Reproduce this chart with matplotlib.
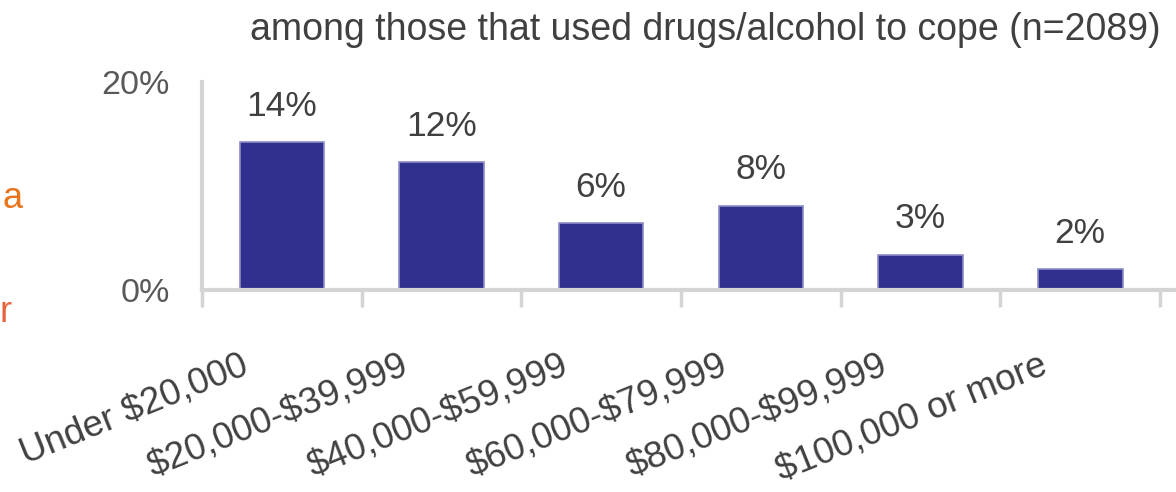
import numpy as np
import matplotlib
matplotlib.use('Agg')
import matplotlib.pyplot as plt
import matplotlib.transforms as mtransforms

# Share of respondents by household income
income_groups = ['Under $20,000', '$20,000-$39,999', '$40,000-$59,999',
                 '$60,000-$79,999', '$80,000-$99,999', '$100,000 or more']
share_pct = [14.2, 12.3, 6.4, 8.1, 3.4, 2.0]
title_text = 'among those that used drugs/alcohol to cope (n=2089)'
y_ticks = [0, 20]

bar_color = '#32308E'
edge_color = '#8E8CC6'
text_color = '#404040'
axis_color = '#D4D4D4'

plt.rcParams['font.family'] = ['Liberation Sans', 'DejaVu Sans']
plt.rcParams['text.parse_math'] = False

fig = plt.figure(figsize=(11.76, 4.92), dpi=100)
ax = fig.add_axes([202 / 1176, 1 - 290 / 492, 1 - 202 / 1176, 208 / 492])

x = np.arange(len(income_groups))
bars = ax.bar(x, share_pct, width=0.53, color=bar_color, edgecolor=edge_color, linewidth=1.2, zorder=2)
for xi, v in zip(x, share_pct):
    ax.annotate('%.0f%%' % v, (xi, v), xytext=(0, 14), textcoords='offset points',
                ha='center', va='bottom', fontsize=25.5, color=text_color)

ax.set_xlim(-0.5, 5.6)
ax.set_ylim(0, 20)
ax.set_yticks(y_ticks)
ax.set_yticklabels(['%d%%' % t for t in y_ticks], fontsize=24.5, color='#595959')
ax.tick_params(axis='y', length=0, pad=23)

# boundary ticks between categories, labels sit on the centres
ax.set_xticks(np.arange(-0.5, 6.0, 1.0))
ax.set_xticklabels([])
ax.tick_params(axis='x', which='major', length=12, width=2.5, color=axis_color)
ax.set_xticks(x, minor=True)
ax.set_xticklabels(income_groups, minor=True, rotation=22, ha='right', va='center',
                   rotation_mode='anchor', fontsize=26.5, color=text_color)
ax.tick_params(axis='x', which='minor', length=0, pad=0)
offset = mtransforms.ScaledTranslation(-0.35, -0.74, fig.dpi_scale_trans)
for lab in ax.get_xticklabels(minor=True):
    lab.set_transform(lab.get_transform() + offset)

for side in ['top', 'right']:
    ax.spines[side].set_visible(False)
for side in ['left', 'bottom']:
    ax.spines[side].set_color(axis_color)
    ax.spines[side].set_linewidth(3)

fig.text(705 / 1176, 1 - 30 / 492, title_text, ha='center', va='center', fontsize=27, color=text_color)

# letters from neighbouring text at the left margin
fig.text(2 / 1176, 1 - 198 / 492, 'a', ha='left', va='center', fontsize=26, color='#E8741C')
fig.text(0, 1 - 312 / 492, 'r', ha='left', va='center', fontsize=26, color='#E8643C')

fig.savefig('out.png', dpi=100)
